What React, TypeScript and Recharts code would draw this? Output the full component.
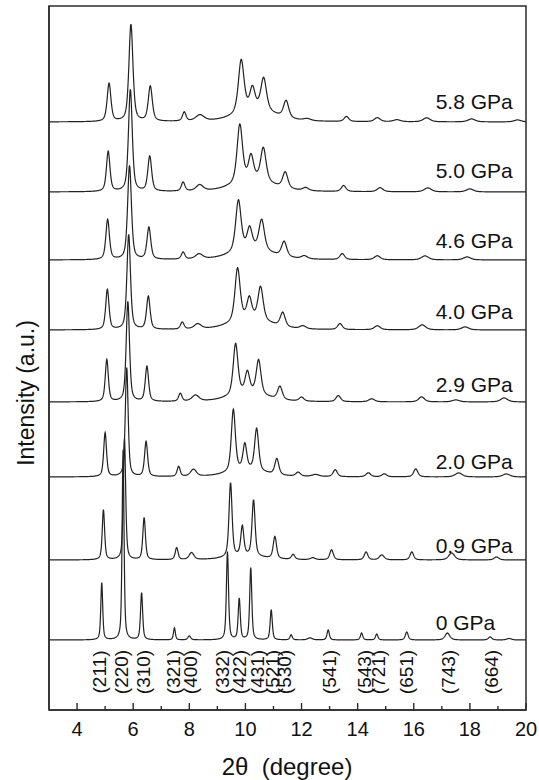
import React from "react";
import { ComposedChart, Line, XAxis, YAxis, Scatter, ReferenceArea } from "recharts";

// ---- data ----
const pressureLabels = ["0 GPa", "0.9 GPa", "2.0 GPa", "2.9 GPa", "4.0 GPa", "4.6 GPa", "5.0 GPa", "5.8 GPa"];
// vertical offset (baseline) of each stacked pattern, intensity a.u.
const baselines = [70, 150, 233, 308, 380, 450, 518, 588];
// position of the pressure labels
const pressureLabelX = 16.78;
const pressureLabelY = [80.5, 157.5, 241.5, 318.5, 391.5, 462.5, 532.5, 601.5];

// peaks: [2θ (deg), height (a.u.), FWHM (deg)]
const peaks0GPa = [[4.88, 57, 0.08], [5.64, 190, 0.08], [6.3, 47, 0.09], [7.47, 12, 0.08], [8.0, 4, 0.12], [9.36, 88, 0.09], [9.78, 41, 0.09], [10.19, 72, 0.09], [10.92, 30, 0.09], [11.63, 5, 0.1], [12.3, 2, 0.2], [12.95, 10, 0.1], [14.14, 7, 0.1], [14.68, 6, 0.1], [15.75, 8, 0.12], [17.2, 7, 0.2], [18.72, 3, 0.15], [19.4, 1.5, 0.2]];
const peaks09GPa = [[4.94, 50, 0.1], [5.69, 121, 0.1], [6.39, 42, 0.11], [7.55, 12, 0.12], [8.08, 7, 0.2], [9.47, 74, 0.13], [9.89, 29, 0.13], [10.29, 56, 0.13], [11.05, 22, 0.14], [10.0, 4, 1.5], [11.7, 5, 0.15], [12.4, 2, 0.2], [13.07, 10, 0.15], [14.3, 8, 0.15], [14.86, 5, 0.2], [15.93, 8, 0.15], [17.35, 7, 0.25], [18.95, 3, 0.2]];
const peaks20GPa = [[5.0, 44, 0.12], [5.77, 109, 0.12], [6.46, 35, 0.13], [7.62, 10, 0.13], [8.15, 7, 0.25], [9.57, 62, 0.17], [9.98, 25, 0.16], [10.4, 42, 0.17], [11.12, 16, 0.17], [10.05, 7, 1.5], [11.88, 4, 0.2], [12.5, 2, 0.3], [13.2, 7, 0.18], [14.38, 4, 0.2], [14.95, 3, 0.2], [16.07, 8, 0.18], [17.6, 4, 0.3], [19.3, 3, 0.3]];
const peaks29GPa = [[5.06, 42, 0.13], [5.81, 100, 0.14], [6.49, 35, 0.14], [7.68, 8, 0.14], [8.22, 6, 0.3], [9.65, 51, 0.2], [10.07, 20, 0.19], [10.47, 34, 0.2], [11.23, 13, 0.2], [10.1, 9, 1.5], [12.0, 4, 0.2], [13.31, 6, 0.2], [14.5, 3, 0.25], [16.28, 5, 0.25], [17.5, 2, 0.3], [19.22, 4, 0.3]];
const peaks40GPa = [[5.08, 40, 0.14], [5.84, 95, 0.15], [6.54, 33, 0.15], [7.75, 7, 0.15], [8.3, 5, 0.3], [9.72, 53, 0.22], [10.14, 20, 0.2], [10.54, 33, 0.22], [11.33, 14, 0.21], [10.2, 11, 1.6], [12.05, 3, 0.25], [13.37, 6, 0.2], [14.7, 4, 0.25], [16.3, 5, 0.3], [17.83, 3, 0.3]];
const peaks46GPa = [[5.09, 40, 0.15], [5.87, 94, 0.16], [6.56, 32, 0.16], [7.78, 7, 0.15], [8.35, 5, 0.3], [9.75, 51, 0.23], [10.15, 20, 0.21], [10.58, 30, 0.23], [11.38, 15, 0.22], [10.25, 11, 1.6], [12.1, 3, 0.25], [13.45, 6, 0.2], [14.7, 4, 0.25], [16.4, 4, 0.3], [17.9, 3, 0.3]];
const peaks50GPa = [[5.11, 40, 0.15], [5.9, 102, 0.16], [6.59, 35, 0.16], [7.78, 9, 0.15], [8.37, 6, 0.3], [9.8, 58, 0.23], [10.2, 23, 0.21], [10.64, 33, 0.23], [11.42, 16, 0.22], [10.3, 12, 1.6], [12.15, 3, 0.25], [13.5, 6, 0.2], [14.8, 4, 0.25], [16.5, 4, 0.3], [18.0, 3, 0.3]];
const peaks58GPa = [[5.14, 38, 0.16], [5.92, 97, 0.17], [6.61, 35, 0.17], [7.82, 9, 0.15], [8.38, 6, 0.35], [9.85, 53, 0.24], [10.25, 21, 0.22], [10.65, 32, 0.24], [11.45, 17, 0.22], [10.4, 12, 1.6], [12.2, 2, 0.3], [13.6, 5, 0.2], [14.7, 4, 0.25], [15.4, 2, 0.3], [16.46, 4, 0.3], [18.06, 3, 0.3], [19.7, 2, 0.3]];
const allPeaks = [peaks0GPa, peaks09GPa, peaks20GPa, peaks29GPa, peaks40GPa, peaks46GPa, peaks50GPa, peaks58GPa];

// Miller indices (labels along the bottom)
const millerLabels = ["(211)", "(220)", "(310)", "(321)", "(400)", "(332)", "(422)", "(431)", "(521)", "(530)", "(541)", "(543)", "(721)", "(651)", "(743)", "(664)"];
const millerX = [4.8, 5.6, 6.37, 7.45, 8.06, 9.2, 9.8, 10.42, 10.95, 11.41, 13.01, 14.26, 14.74, 15.75, 17.23, 18.78];
const millerY = 38;

const xTicks = [4, 5, 6, 7, 8, 9, 10, 11, 12, 13, 14, 15, 16, 17, 18, 19, 20];
const xMin = 3;
const xMax = 20;
const yMax = 704;

// ---- build the profile table from the peak lists ----
const STEP = 0.01;
const ETA = 0.55;
function profile(x: number, peaks: number[][]): number {
  let s = 0;
  for (const [c, h, w] of peaks) {
    const t = (x - c) / (w / 2);
    const L = 1 / (1 + t * t);
    const G = Math.exp(-Math.LN2 * t * t);
    s += h * (ETA * L + (1 - ETA) * G);
  }
  return s;
}
const tableData: Record<string, number>[] = [];
for (let i = 0; i <= Math.round((xMax - xMin) / STEP); i++) {
  const x = +(xMin + i * STEP).toFixed(3);
  const row: Record<string, number> = { x };
  allPeaks.forEach((p, k) => {
    row["s" + k] = baselines[k] + profile(x, p);
  });
  tableData.push(row);
}
const millerData = millerLabels.map((t, i) => ({ x: millerX[i], y: millerY, t }));
const pressureData = pressureLabels.map((t, i) => ({ x: pressureLabelX, y: pressureLabelY[i], t }));

const FONT = "'Liberation Sans', Arial, Helvetica, sans-serif";
const INK = "#2b2b2b";

const XTick = (props: any) => {
  const { x, y, payload } = props;
  const v = payload.value;
  const major = v % 2 === 0;
  return (
    <g>
      <line x1={x} y1={y} x2={x} y2={y - (major ? 7 : 4)} stroke={INK} strokeWidth={1.4} />
      {major && (
        <text x={x} y={y + 26} textAnchor="middle" fontFamily={FONT} fontSize={20} fill="#111">
          {v}
        </text>
      )}
    </g>
  );
};

const MillerShape = (props: any) => {
  const { cx, cy, payload } = props;
  return (
    <text
      x={cx}
      y={cy}
      transform={`rotate(-90 ${cx} ${cy})`}
      textAnchor="middle"
      dominantBaseline="central"
      fontFamily={FONT}
      fontSize={19}
      fill="#111"
    >
      {payload.t}
    </text>
  );
};

const PressureShape = (props: any) => {
  const { cx, cy, payload } = props;
  return (
    <text x={cx} y={cy} fontFamily={FONT} fontSize={21} fill="#111">
      {payload.t}
    </text>
  );
};

export default function App() {
  return (
    <div style={{ position: "absolute", left: 0, top: 0, background: "#fff" }}>
      <ComposedChart
        width={539}
        height={780}
        data={tableData}
        margin={{ top: 6, right: 13, bottom: 0, left: 0 }}
      >
        <XAxis
          type="number"
          dataKey="x"
          domain={[xMin, xMax]}
          ticks={xTicks}
          allowDataOverflow
          height={70}
          tickSize={0}
          tickMargin={0}
          tickLine={false}
          axisLine={{ stroke: INK, strokeWidth: 1.5 }}
          tick={<XTick />}
          interval={0}
          label={{
            content: () => (
              <text x={287} y={775} textAnchor="middle" fontFamily={FONT} fontSize={24} fill="#111" style={{ whiteSpace: "pre" }}>
                {"2θ  (degree)"}
              </text>
            ),
          }}
        />
        <YAxis
          type="number"
          domain={[0, yMax]}
          allowDataOverflow
          width={49}
          tick={false}
          tickLine={false}
          axisLine={{ stroke: INK, strokeWidth: 1.5 }}
          label={{
            content: () => (
              <text x={34} y={393} transform="rotate(-90 34 393)" textAnchor="middle" fontFamily={FONT} fontSize={23} fill="#111">
                Intensity (a.u.)
              </text>
            ),
          }}
        />
        <ReferenceArea x1={xMin} x2={xMax} y1={0} y2={yMax} fill="none" stroke={INK} strokeWidth={1.5} ifOverflow="extendDomain" />
        {allPeaks.map((_, k) => (
          <Line
            key={k}
            type="linear"
            dataKey={"s" + k}
            stroke="#222"
            strokeWidth={1.2}
            dot={false}
            activeDot={false}
            isAnimationActive={false}
          />
        ))}
        <Scatter data={millerData} dataKey="y" shape={<MillerShape />} isAnimationActive={false} />
        <Scatter data={pressureData} dataKey="y" shape={<PressureShape />} isAnimationActive={false} />
      </ComposedChart>
    </div>
  );
}
